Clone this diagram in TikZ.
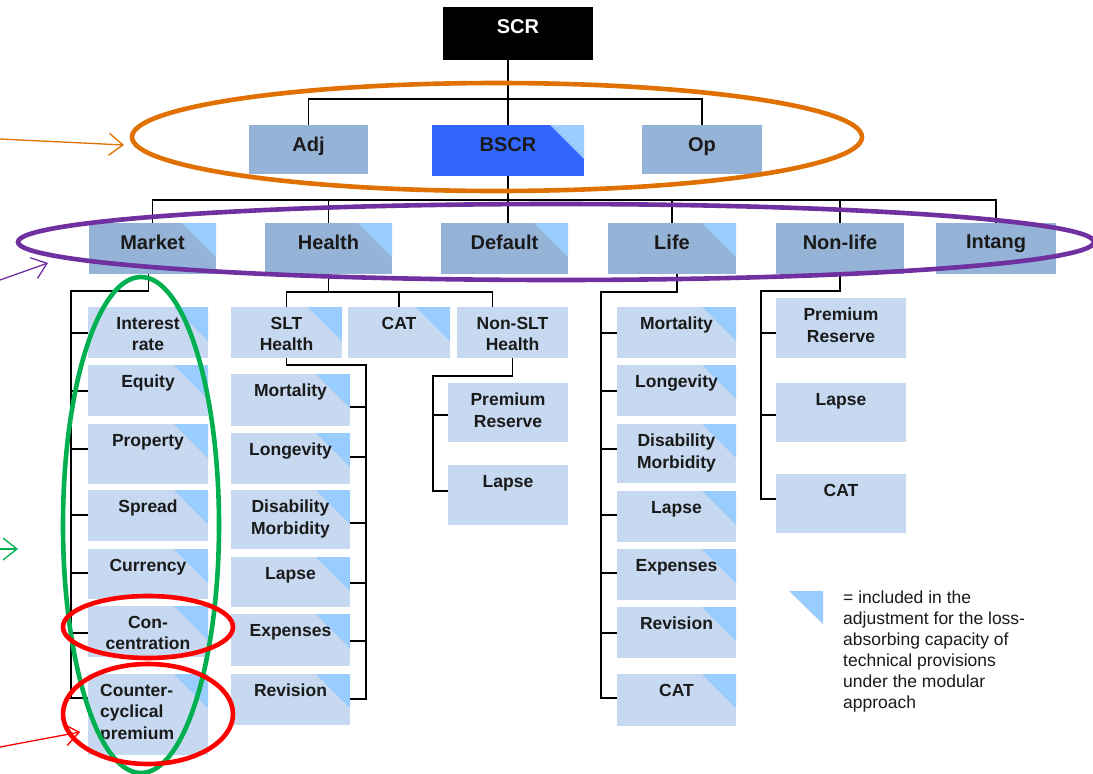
\documentclass[tikz,border=0pt]{standalone}
\usepackage{fontspec}
\setmainfont{Liberation Sans}
\usetikzlibrary{calc,arrows.meta}

\definecolor{modulefill}{HTML}{95B3D7}
\definecolor{subfill}{HTML}{C6D9F0}
\definecolor{cornerfill}{HTML}{99CCFF}
\definecolor{bscrfill}{HTML}{3366FF}
\definecolor{textdark}{HTML}{1A1A1A}
\definecolor{ringorange}{HTML}{E07000}
\definecolor{ringpurple}{HTML}{7030A0}
\definecolor{ringgreen}{HTML}{00B050}
\definecolor{ringred}{HTML}{FF0000}

\tikzstyle{module}=[rectangle,inner sep=0pt,outer sep=0pt,
    minimum width=127pt,minimum height=51pt,fill=modulefill]
\tikzstyle{submodule}=[module,minimum width=120pt,fill=subfill]
\tikzstyle{cornered}=[path picture={\fill[cornerfill]
    (path picture bounding box.north east) -- ++(-34pt,0pt) -- ++(34pt,-34pt) -- cycle;}]
\tikzstyle{module text}=[inner sep=0pt,align=center,yshift=-12pt,text=textdark,
    font=\bfseries\fontsize{20}{24}\selectfont]
\tikzstyle{submodule text}=[inner sep=0pt,align=center,yshift=-10pt,text=textdark,
    font=\bfseries\fontsize{17.5}{21.5}\selectfont]
\tikzstyle{key text}=[inner sep=0pt,align=left,text=textdark,
    font=\fontsize{17.5}{21}\selectfont]
\tikzstyle{branch}=[line width=1.8pt]
\tikzstyle{ring}=[line width=4.6pt]
\tikzstyle{pointer}=[line width=1.3pt,-{Straight Barb[length=14pt,width=22pt]}]

% [box options]{style}{position}{name}{text}
\newcommand{\riskbox}[5][]{
    \node[#2,anchor=north west,#1] (#4) at (#3) {};
    \node[#2 text,anchor=north] (#4-t) at (#4.north) {#5};
}
\newcommand{\tickwest}[3]{
    \coordinate (#1-c) at ($(#1.north west)+(0,#3)$);
    \draw[branch] (#1-c) -- (#1-c -| #2);
}
\newcommand{\tickeast}[3]{
    \coordinate (#1-c) at ($(#1.north east)+(0,#3)$);
    \draw[branch] (#1-c) -- (#1-c -| #2);
}

\begin{document}
\begin{tikzpicture}[x=1pt,y=-1pt]
    \useasboundingbox[fill=white] (0,0) rectangle (1093,774);
    %
    \riskbox[minimum width=150pt,minimum height=53pt,fill=black]{module}{443,7}{SCR}{\color{white}SCR}
    \riskbox[minimum width=119pt,minimum height=49pt]{module}{249,125}{Adj}{Adj}
    \riskbox[minimum width=152pt,fill=bscrfill,cornered]{module}{432,125}{BSCR}{BSCR}
    \riskbox[minimum width=120pt,minimum height=49pt]{module}{642,125}{Op}{Op}
    %
    \riskbox[cornered]{module}{89,223}{Market}{Market}
    \riskbox[cornered]{module}{265,223}{Health}{Health}
    \riskbox[cornered]{module}{441,223}{Default}{Default}
    \riskbox[minimum width=128pt,cornered]{module}{608,223}{Life}{Life}
    \riskbox[minimum width=128pt]{module}{776,223}{Nonlife}{Non-life}
    \riskbox[minimum width=120pt]{module}{936,223}{Intang}{Intang}
    %
    \coordinate (bar1) at (0,99);
    \coordinate (bar2) at (0,200);
    \draw[branch] (SCR.south -| BSCR.north) -- (BSCR.north);
    \draw[branch] (Adj.north) |- (bar1 -| BSCR.north) -| (Op.north);
    \draw[branch] (BSCR.south) -- (BSCR.south |- Default.north);
    \draw[branch] (Market.north) |- (bar2 -| Default.north) -| (Intang.north);
    \foreach \m in {Health,Life,Nonlife}
        \draw[branch] (\m.north) -- (\m.north |- bar2);
    %
    % market
    \riskbox[cornered]{submodule}{88,307}{ir}{Interest\\rate}
    \riskbox[cornered]{submodule}{88,365}{eq}{Equity}
    \riskbox[minimum height=60pt,cornered]{submodule}{88,424}{prop}{Property}
    \riskbox[cornered]{submodule}{88,490}{spr}{Spread}
    \riskbox[minimum height=50pt,cornered]{submodule}{88,549}{cur}{Currency}
    \riskbox[cornered]{submodule}{88,606}{conc}{Con-\\centration}
    \node[submodule,anchor=north west,minimum height=81pt,cornered] (ccp) at (88,674) {};
    \node[submodule text,anchor=north west,align=left] (ccp-t) at ([xshift=12pt]ccp.north west)
        {Counter-\\cyclical\\premium};
    \coordinate (mbus) at (71,291);
    \tickwest{ir}{mbus}{26}
    \tickwest{eq}{mbus}{26}
    \tickwest{prop}{mbus}{25}
    \tickwest{spr}{mbus}{25}
    \tickwest{cur}{mbus}{24}
    \tickwest{conc}{mbus}{27}
    \tickwest{ccp}{mbus}{24}
    \draw[branch] ([xshift=-4pt]Market.south) |- (mbus) |- (ccp-c);
    %
    % health
    \riskbox[minimum width=111pt,cornered]{submodule}{231,307}{slt}{SLT\\Health}
    \riskbox[minimum width=102pt,cornered]{submodule}{348,307}{hcat}{CAT}
    \riskbox[minimum width=111pt]{submodule}{457,307}{nslt}{Non-SLT\\Health}
    \coordinate (hbar) at (0,292);
    \draw[branch] (slt.north) |- (hbar -| Health.south) -| ([xshift=-20pt]nslt.north);
    \draw[branch] (Health.south) -- (Health.south |- hbar);
    \draw[branch] (hcat.north) -- (hcat.north |- hbar);
    %
    \riskbox[minimum width=119pt,minimum height=52pt,cornered]{submodule}{231,374}{hmort}{Mortality}
    \riskbox[minimum width=119pt,cornered]{submodule}{231,433}{hlong}{Longevity}
    \riskbox[minimum width=119pt,minimum height=59pt,cornered]{submodule}{231,490}{hdis}{Disability\\Morbidity}
    \riskbox[minimum width=119pt,minimum height=50pt,cornered]{submodule}{231,557}{hlapse}{Lapse}
    \riskbox[minimum width=119pt,minimum height=52pt,cornered]{submodule}{231,614}{hexp}{Expenses}
    \riskbox[minimum width=119pt,cornered]{submodule}{231,674}{hrev}{Revision}
    \coordinate (sbus) at (366,365);
    \tickeast{hmort}{sbus}{33}
    \tickeast{hlong}{sbus}{24}
    \tickeast{hdis}{sbus}{33}
    \tickeast{hlapse}{sbus}{26}
    \tickeast{hexp}{sbus}{27}
    \tickeast{hrev}{sbus}{25}
    \draw[branch] (slt.south) |- (sbus) |- (hrev-c);
    %
    \riskbox[minimum height=59pt]{submodule}{448,383}{hprem}{Premium\\Reserve}
    \riskbox[minimum height=60pt]{submodule}{448,465}{hnlapse}{Lapse}
    \coordinate (nsbus) at (433,376);
    \tickwest{hprem}{nsbus}{32}
    \tickwest{hnlapse}{nsbus}{26}
    \draw[branch] (nslt.south) |- (nsbus) |- (hnlapse-c);
    %
    % life
    \riskbox[minimum width=119pt,cornered]{submodule}{617,307}{lmort}{Mortality}
    \riskbox[minimum width=119pt,cornered]{submodule}{617,365}{llong}{Longevity}
    \riskbox[minimum width=119pt,minimum height=59pt,cornered]{submodule}{617,424}{ldis}{Disability\\Morbidity}
    \riskbox[minimum width=119pt,cornered]{submodule}{617,491}{llapse}{Lapse}
    \riskbox[minimum width=119pt,cornered]{submodule}{617,549}{lexp}{Expenses}
    \riskbox[minimum width=119pt,cornered]{submodule}{617,607}{lrev}{Revision}
    \riskbox[minimum width=119pt,minimum height=52pt,cornered]{submodule}{617,674}{lcat}{CAT}
    \coordinate (lbus) at (601,292);
    \tickwest{lmort}{lbus}{26}
    \tickwest{llong}{lbus}{26}
    \tickwest{ldis}{lbus}{25}
    \tickwest{llapse}{lbus}{24}
    \tickwest{lexp}{lbus}{24}
    \tickwest{lrev}{lbus}{26}
    \tickwest{lcat}{lbus}{24}
    \draw[branch] ([xshift=5pt]Life.south) |- (lbus) |- (lcat-c);
    %
    % non-life
    \riskbox[minimum width=130pt,minimum height=60pt]{submodule}{776,298}{nprem}{Premium\\Reserve}
    \riskbox[minimum width=130pt,minimum height=59pt]{submodule}{776,383}{nlapse}{Lapse}
    \riskbox[minimum width=130pt,minimum height=59pt]{submodule}{776,474}{ncat}{CAT}
    \coordinate (nlbus) at (761,291);
    \tickwest{nprem}{nlbus}{35}
    \tickwest{nlapse}{nlbus}{32}
    \tickwest{ncat}{nlbus}{25}
    \draw[branch] (Nonlife.south) |- (nlbus) |- (ncat-c);
    %
    % key
    \coordinate (key) at (823,591);
    \fill[cornerfill] (key) -- ++(-34,0) -- ++(34,33) -- cycle;
    \node[key text,anchor=north west] (keytext) at (843,591)
        {= included in the\\adjustment for the loss-\\absorbing capacity of\\technical provisions\\under the modular\\approach};
    %
    % marks
    \draw[ring,ringorange] (497,137) ellipse [x radius=365pt,y radius=54pt];
    \draw[ring,ringpurple] (556,242) ellipse [x radius=538pt,y radius=38pt];
    \draw[ring,ringgreen] (141,525) ellipse [x radius=78pt,y radius=248pt];
    \draw[ring,ringred] (148,627) ellipse [x radius=85pt,y radius=31pt];
    \draw[ring,ringred] (148,714) ellipse [x radius=85pt,y radius=50pt];
    %
    \coordinate (oa) at (0,139);   \coordinate (ob) at (124,145);
    \coordinate (pa) at (0,280);   \coordinate (pb) at (48,263);
    \coordinate (ga) at (0,549);   \coordinate (gb) at (18,549);
    \coordinate (ra) at (0,747);   \coordinate (rb) at (80,732);
    \draw[pointer,ringorange] (oa) -- (ob);
    \draw[pointer,ringpurple] (pa) -- (pb);
    \draw[pointer,ringgreen] (ga) -- (gb);
    \draw[pointer,ringred] (ra) -- (rb);
\end{tikzpicture}
\end{document}
